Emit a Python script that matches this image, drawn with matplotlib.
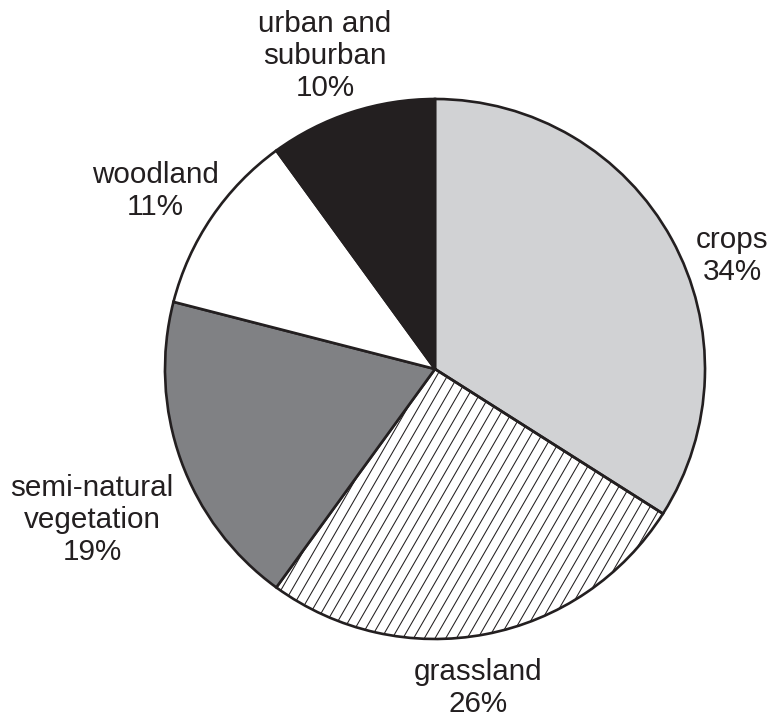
import numpy as np
import matplotlib.pyplot as plt

plt.rcParams['font.family'] = ['Liberation Sans', 'DejaVu Sans']

# land use shares, clockwise from 12 o'clock
categories = ['crops', 'grassland', 'semi-natural\nvegetation', 'woodland', 'urban and\nsuburban']
shares = [34, 26, 19, 11, 10]
colours = ['#d1d2d4', 'none', '#808184', '#ffffff', '#231f20']
edge = '#231f20'

fig = plt.figure(figsize=(7.71, 7.2), dpi=100)
ax = fig.add_axes([0, 0, 1, 1])

cx, cy, r = 435, 351, 270
wedges, _ = ax.pie(shares, colors=colours, startangle=90, counterclock=False,
                   center=(cx, cy), radius=r, frame=True,
                   wedgeprops=dict(edgecolor=edge, linewidth=1.9, zorder=2))
ax.set_xlim(0, 771)
ax.set_ylim(0, 720)
ax.set_aspect('equal')
ax.axis('off')

# steep diagonal hatching on the grassland slice
grass = wedges[1]
ang = np.deg2rad(60)
step = 10.7
for c in np.arange(cx - 2 * r, cx + 2 * r, step):
    ys = np.array([cy - r - 10, cy + r + 10])
    xs = c + (ys - cy) / np.tan(ang)
    ln, = ax.plot(xs, ys, color=edge, lw=0.75, zorder=1)
    ln.set_clip_path(grass)

# label placement (pixel coords, y measured from top)
label_pos = [(732, 256), (478, 688), (92, 520), (155, 191), (325, 56)]
for name, val, (lx, ly) in zip(categories, shares, label_pos):
    ax.text(lx, 720 - ly, f'{name}\n{val}%', ha='center', va='center',
            fontsize=21.3, color='#231f20', linespacing=1.2)

fig.savefig('out.png', dpi=100)
